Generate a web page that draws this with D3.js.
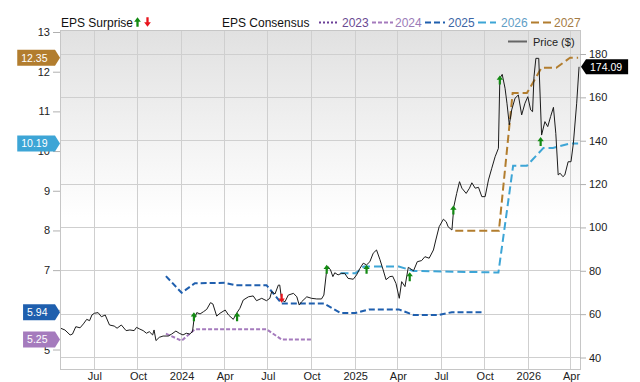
<!DOCTYPE html>
<html><head><meta charset="utf-8">
<script src="https://cdn.jsdelivr.net/npm/d3@7"></script>
<style>body{margin:0;background:#fff}svg{display:block;font-family:"Liberation Sans",Arial,sans-serif}</style>
</head><body><svg id="c" width="640" height="382"></svg>
<script>
// ---------- data ----------
const priceData = [["2023-04-21",53.5],["2023-04-30",52.7],["2023-05-11",50.4],["2023-05-16",50.8],["2023-05-23",54.2],["2023-06-01",53.7],["2023-06-08",55.5],["2023-06-15",57.6],["2023-06-21",57.0],["2023-06-26",59.6],["2023-07-01",60.4],["2023-07-09",60.7],["2023-07-16",58.8],["2023-07-24",59.6],["2023-08-02",55.0],["2023-08-12",54.5],["2023-08-18",53.5],["2023-08-27",55.0],["2023-09-06",52.4],["2023-09-14",52.7],["2023-09-23",52.4],["2023-09-28",53.9],["2023-10-05",53.1],["2023-10-12",52.4],["2023-10-19",51.2],["2023-10-25",51.9],["2023-11-01",50.4],["2023-11-04",52.7],["2023-11-08",47.8],["2023-11-15",49.3],["2023-11-23",49.9],["2023-12-04",49.9],["2023-12-11",50.8],["2023-12-20",52.2],["2023-12-27",51.2],["2024-01-04",50.4],["2024-01-11",51.2],["2024-01-18",50.8],["2024-01-24",51.9],["2024-01-27",57.3],["2024-02-02",60.7],["2024-02-09",60.1],["2024-02-16",61.1],["2024-02-23",62.2],["2024-03-02",65.3],["2024-03-07",64.7],["2024-03-15",59.1],["2024-03-22",60.4],["2024-04-02",61.9],["2024-04-09",59.6],["2024-04-19",57.6],["2024-04-26",60.4],["2024-05-03",62.7],["2024-05-10",66.5],["2024-05-21",68.0],["2024-05-31",68.4],["2024-06-07",66.2],["2024-06-18",67.3],["2024-06-28",66.2],["2024-07-05",67.3],["2024-07-09",70.4],["2024-07-16",69.3],["2024-07-23",73.4],["2024-07-26",73.4],["2024-07-30",66.5],["2024-08-06",65.7],["2024-08-13",68.8],["2024-08-24",69.6],["2024-08-31",68.0],["2024-09-05",64.2],["2024-09-10",65.7],["2024-09-21",68.0],["2024-10-01",67.3],["2024-10-12",67.0],["2024-10-22",67.0],["2024-10-27",68.8],["2024-11-02",80.4],["2024-11-05",81.9],["2024-11-10",80.4],["2024-11-15",77.3],["2024-11-19",79.1],["2024-11-26",78.1],["2024-12-03",78.8],["2024-12-10",78.8],["2024-12-17",76.5],["2024-12-28",76.1],["2025-01-04",78.1],["2025-01-11",81.1],["2025-01-18",83.5],["2025-01-25",82.7],["2025-02-01",84.2],["2025-02-08",88.1],["2025-02-15",89.6],["2025-02-22",85.3],["2025-03-01",80.4],["2025-03-07",75.9],["2025-03-15",77.3],["2025-03-21",77.5],["2025-03-28",74.2],["2025-04-04",67.3],["2025-04-09",75.0],["2025-04-16",72.7],["2025-04-23",81.6],["2025-05-04",80.0],["2025-05-12",84.2],["2025-05-21",84.7],["2025-05-28",86.5],["2025-06-06",85.8],["2025-06-15",89.6],["2025-06-20",94.2],["2025-06-27",100.3],["2025-07-06",103.8],["2025-07-12",102.6],["2025-07-16",100.3],["2025-07-24",98.8],["2025-07-28",109.6],["2025-08-03",115.7],["2025-08-09",121.1],["2025-08-14",118.1],["2025-08-23",115.7],["2025-08-30",118.1],["2025-09-04",120.6],["2025-09-11",118.1],["2025-09-18",118.5],["2025-09-25",114.2],["2025-10-02",114.2],["2025-10-09",121.9],["2025-10-16",127.3],["2025-10-23",132.6],["2025-10-30",136.5],["2025-11-02",168.8],["2025-11-07",170.6],["2025-11-13",164.2],["2025-11-17",157.3],["2025-11-22",147.3],["2025-11-27",154.2],["2025-12-04",159.6],["2025-12-11",161.1],["2025-12-18",151.9],["2025-12-25",157.3],["2025-12-31",160.3],["2026-01-06",154.2],["2026-01-10",153.4],["2026-01-13",169.5],["2026-01-17",178.0],["2026-01-23",178.0],["2026-01-29",142.6],["2026-02-05",148.8],["2026-02-11",146.5],["2026-02-17",151.1],["2026-02-23",155.4],["2026-02-28",143.4],["2026-03-05",124.2],["2026-03-09",125.0],["2026-03-15",123.4],["2026-03-19",124.2],["2026-03-26",130.3],["2026-04-01",130.3],["2026-04-06",138.8],["2026-04-13",157.3],["2026-04-18",174.09]];

const eps2023 = [];
const eps2024 = [["2023-11-29",5.40],["2024-01-01",5.22],["2024-01-29",5.51],["2024-06-28",5.51],["2024-07-30",5.25],["2024-09-30",5.25]];
const eps2025 = [["2023-11-29",6.85],["2024-01-01",6.43],["2024-01-29",6.67],["2024-04-01",6.68],["2024-04-23",6.62],["2024-06-28",6.62],["2024-07-30",6.16],["2024-10-27",6.16],["2024-12-01",5.92],["2025-01-02",5.92],["2025-01-30",6.01],["2025-04-03",6.01],["2025-05-04",5.87],["2025-06-25",5.87],["2025-07-24",5.94],["2025-09-28",5.94]];
const eps2026 = [["2024-12-01",6.92],["2025-01-02",6.92],["2025-01-19",7.09],["2025-04-03",7.09],["2025-05-04",6.98],["2025-10-30",6.94],["2025-11-30",9.63],["2025-12-29",9.63],["2026-02-02",10.08],["2026-02-22",10.08],["2026-03-30",10.19],["2026-04-16",10.19]];
const eps2027 = [["2025-07-31",7.99],["2025-10-31",7.99],["2025-11-29",11.46],["2025-12-29",11.46],["2026-01-29",12.10],["2026-03-01",12.10],["2026-03-30",12.35],["2026-04-16",12.35]];

const surprises = [["2024-01-27",58.8,"up"],["2024-04-27",58.8,"up"],["2024-07-30",67.3,"down"],["2024-11-02",80.7,"up"],["2025-01-25",80.7,"up"],["2025-04-26",77.3,"up"],["2025-07-27",108.0,"up"],["2025-11-02",168.0,"up"],["2026-01-27",139.6,"up"]];

const seriesNames = ["2023","2024","2025","2026","2027"];
const priceTicks = [40,60,80,100,120,140,160,180];
const epsTicks = [5,6,7,8,9,10,11,12,13];
const timeTicks = ["2023-07-01","2023-10-01","2024-01-01","2024-04-01","2024-07-01","2024-10-01","2025-01-01","2025-04-01","2025-07-01","2025-10-01","2026-01-01","2026-04-01"];
const timeLabels = ["Jul","Oct","2024","Apr","Jul","Oct","2025","Apr","Jul","Oct","2026","Apr"];

// ---------- setup ----------
const parse = d3.timeParse("%Y-%m-%d");
const svg = d3.select("#c");
const L = 61, R = 580, T = 31, B = 369;
const x = d3.scaleTime().domain([new Date(2023,3,21,19), new Date(2026,3,20)]).range([L, R]);
const yP = d3.scaleLinear().domain([40,180]).range([357.5,54]);
const yE = d3.scaleLinear().domain([5,13]).range([349.5,32]);

const styles = {
  "2023": {color:"#6b3f98", dash:"2,2", text:"#6a4a92"},
  "2024": {color:"#a57bbd", dash:"4,2", text:"#9b7bb8"},
  "2025": {color:"#1f5fae", dash:"6,3", text:"#3c66a6"},
  "2026": {color:"#3da5d6", dash:"8,4", text:"#5f9ec6"},
  "2027": {color:"#b27d2e", dash:"8,4", text:"#a57c45"}
};
const epsSeries = {"2023":eps2023,"2024":eps2024,"2025":eps2025,"2026":eps2026,"2027":eps2027};

const defs = svg.append("defs");
const grad = defs.append("linearGradient").attr("id","bg").attr("x1",0).attr("y1",0).attr("x2",0).attr("y2",1);
grad.append("stop").attr("offset","0%").attr("stop-color","#e1e1e1");
grad.append("stop").attr("offset","55%").attr("stop-color","#ffffff");
defs.append("clipPath").attr("id","clip").append("rect").attr("x",L).attr("y",T).attr("width",R-L).attr("height",B-T);

svg.append("rect").attr("x",L).attr("y",T).attr("width",R-L).attr("height",B-T).attr("fill","url(#bg)");

// gridlines
const tDates = timeTicks.map(parse);
svg.append("g").selectAll("line").data(priceTicks).join("line")
  .attr("x1",L).attr("x2",R).attr("y1",d=>yP(d)).attr("y2",d=>yP(d))
  .attr("stroke","#cfcfcf").attr("shape-rendering","crispEdges");
svg.append("g").selectAll("line").data(tDates).join("line")
  .attr("x1",d=>x(d)).attr("x2",d=>x(d)).attr("y1",T).attr("y2",B)
  .attr("stroke","#cfcfcf").attr("shape-rendering","crispEdges");
svg.append("rect").attr("x",L-0.5).attr("y",T-0.5).attr("width",R-L+1).attr("height",B-T+1)
  .attr("fill","none").attr("stroke","#c6c6c6");

// axes
function styleAxis(g){
  g.select(".domain").remove();
  g.selectAll(".tick line").attr("stroke","#b0b0b0");
  g.selectAll(".tick text").attr("fill","#222").attr("font-size","11px").attr("font-family","Liberation Sans, Arial, sans-serif");
}
svg.append("g").attr("transform",`translate(${L-1},0)`)
  .call(d3.axisLeft(yE).tickValues(epsTicks).tickSize(7).tickPadding(3).tickFormat(d3.format("d")))
  .call(styleAxis);
svg.append("g").attr("transform",`translate(${R},0)`)
  .call(d3.axisRight(yP).tickValues(priceTicks).tickSize(6).tickPadding(3).tickFormat(d3.format("d")))
  .call(styleAxis);
svg.append("g").attr("transform",`translate(0,${B})`)
  .call(d3.axisBottom(x).tickValues(tDates).tickSize(0).tickPadding(3).tickFormat((d,i)=>timeLabels[i]))
  .call(styleAxis);

// plot content
const plot = svg.append("g").attr("clip-path","url(#clip)");
const line = d3.line().x(d=>x(parse(d[0])));
seriesNames.forEach(n=>{
  const data = epsSeries[n];
  if(!data.length) return;
  plot.append("path").datum(data)
    .attr("d", line.y(d=>yE(d[1])))
    .attr("fill","none").attr("stroke",styles[n].color).attr("stroke-width",2)
    .attr("stroke-dasharray",styles[n].dash);
});
plot.append("path").datum(priceData)
  .attr("d", d3.line().x(d=>x(parse(d[0]))).y(d=>yP(d[1])))
  .attr("fill","none").attr("stroke","#1b1b1b").attr("stroke-width",1).attr("stroke-linejoin","round");

const arrowPath = "M0,-4.5L3.2,-0.3L1.1,-0.3L1.1,4.5L-1.1,4.5L-1.1,-0.3L-3.2,-0.3Z";
plot.append("g").selectAll("path").data(surprises).join("path")
  .attr("d",arrowPath)
  .attr("transform",d=>`translate(${x(parse(d[0]))},${yP(d[1])})${d[2]==="down"?" scale(1,-1)":""}`)
  .attr("fill",d=>d[2]==="up"?"#138a13":"#e8141c");

// price legend in plot
svg.append("line").attr("x1",508).attr("x2",527).attr("y1",41.5).attr("y2",41.5).attr("stroke","#666").attr("stroke-width",2);
svg.append("text").attr("x",533).attr("y",45.5).attr("font-size","11px").attr("fill","#222").text("Price ($)");

// top legend
svg.append("text").attr("x",61).attr("y",27).attr("font-size","12px").attr("fill","#111").text("EPS Surprise");
svg.append("path").attr("d",arrowPath).attr("transform","translate(137.5,22) scale(1.05)").attr("fill","#138a13");
svg.append("path").attr("d",arrowPath).attr("transform","translate(147.5,22) scale(1.05,-1.05)").attr("fill","#e8141c");
svg.append("text").attr("x",222).attr("y",27).attr("font-size","12px").attr("fill","#111").text("EPS Consensus");
const legPos = {"2023":[319,337,342],"2024":[372,393,395],"2025":[425,445,448],"2026":[478,496,501],"2027":[531,551,554]};
seriesNames.forEach(n=>{
  const p = legPos[n];
  svg.append("line").attr("x1",p[0]).attr("x2",p[1]).attr("y1",22.5).attr("y2",22.5)
    .attr("stroke",styles[n].color).attr("stroke-width",2).attr("stroke-dasharray",styles[n].dash);
  svg.append("text").attr("x",p[2]).attr("y",27).attr("font-size","12px").attr("fill",styles[n].text).text(n);
});

// left badges (latest consensus values)
["2024","2025","2026","2027"].forEach(n=>{
  const data = epsSeries[n];
  const v = data[data.length-1][1];
  const y = yE(v);
  const g = svg.append("g");
  const t = g.append("text").attr("x",47.5).attr("y",y).attr("dy","0.36em").attr("text-anchor","end")
    .attr("font-size","10.5px").attr("fill","#fff").text(d3.format(".2f")(v));
  const w = t.node().getComputedTextLength();
  const x0 = 47.5 - w - 4;
  g.insert("path","text").attr("d",`M${x0},${y-8}L55,${y-8}L60,${y}L55,${y+8}L${x0},${y+8}Z`).attr("fill",styles[n].color);
});

// right badge (latest price)
{
  const v = priceData[priceData.length-1][1];
  const y = yP(v);
  const g = svg.append("g");
  const t = g.append("text").attr("x",590).attr("y",y).attr("dy","0.36em")
    .attr("font-size","10.5px").attr("fill","#fff").text(d3.format(".2f")(v));
  const w = t.node().getComputedTextLength();
  const x1 = 590 + w + 6;
  g.insert("path","text").attr("d",`M581,${y}L586,${y-7.5}L${x1},${y-7.5}L${x1},${y+7.5}L586,${y+7.5}Z`).attr("fill","#000");
}
</script></body></html>
